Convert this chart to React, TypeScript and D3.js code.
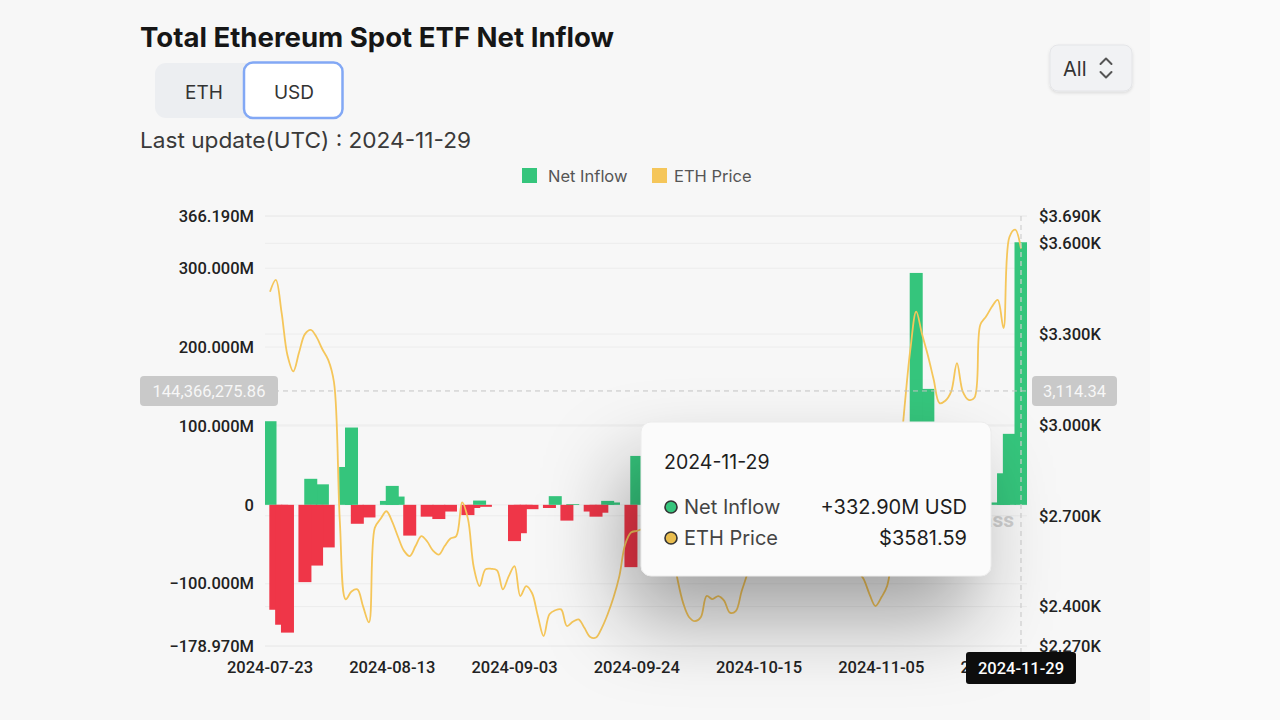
import React from 'react';
import * as d3 from 'd3';

// ---------- data ----------
const flowDates = [
  '2024-07-23', '2024-07-24', '2024-07-25', '2024-07-26', '2024-07-29', '2024-07-30', '2024-07-31',
  '2024-08-01', '2024-08-02', '2024-08-05', '2024-08-06', '2024-08-07', '2024-08-09', '2024-08-12',
  '2024-08-13', '2024-08-14', '2024-08-16', '2024-08-19', '2024-08-21', '2024-08-23', '2024-08-26',
  '2024-08-27', '2024-08-28', '2024-08-29', '2024-09-03', '2024-09-04', '2024-09-05', '2024-09-06',
  '2024-09-09', '2024-09-10', '2024-09-12', '2024-09-13', '2024-09-16', '2024-09-17', '2024-09-18',
  '2024-09-19', '2024-09-20', '2024-09-23', '2024-09-24', '2024-09-27', '2024-09-30', '2024-10-01',
  '2024-10-02', '2024-10-04', '2024-10-07', '2024-10-10', '2024-10-14', '2024-10-15', '2024-10-16',
  '2024-10-18', '2024-10-22', '2024-10-23', '2024-10-29', '2024-10-30', '2024-10-31', '2024-11-01',
  '2024-11-04', '2024-11-05', '2024-11-07', '2024-11-08', '2024-11-11', '2024-11-12', '2024-11-13',
  '2024-11-14', '2024-11-15', '2024-11-18', '2024-11-19', '2024-11-20', '2024-11-22', '2024-11-25',
  '2024-11-26', '2024-11-27', '2024-11-29',
];
// net inflow, millions of USD
const flowValues = [
  106, -133, -152, -162, -98, 33, -77,
  26, -54, 48, 98, -24, -16, 5,
  24, 10.5, -39, -15, -18, -8.5, -13,
  -4, 5.4, -2.5, -46, -36, -5, -5.5,
  -4, 11, -20, 1, -8.5, -15, -10,
  5, 3, -79, 62, 58, 85, 14,
  -48, 7, -7, -6, -3, 24, 49,
  48, -80, -19, 8, 4, -10, -11,
  -63, 52, 79, 85, 294, 136, 147,
  -3, -60, -39, 13, -81, 91, 3,
  40, 90, 332.9,
];

const priceStartDate = '2024-07-23';
// daily ETH price (USD), 2024-07-23 .. 2024-11-29
const priceValues = [
  3440, 3479, 3370, 3230, 3177, 3240, 3300, 3314, 3290, 3250,
  3215, 3140, 2680, 2424, 2450, 2457, 2400, 2348, 2660, 2690,
  2715, 2680, 2630, 2585, 2567, 2600, 2633, 2615, 2585, 2572,
  2600, 2625, 2633, 2744, 2690, 2530, 2468, 2523, 2525, 2520,
  2457, 2500, 2534, 2435, 2468, 2445, 2370, 2303, 2375, 2388,
  2391, 2336, 2350, 2358, 2330, 2300, 2298, 2330, 2375, 2430,
  2500, 2605, 2645, 2650, 2655, 2640, 2700, 2680, 2660, 2600,
  2490, 2410, 2365, 2352, 2365, 2435, 2425, 2435, 2420, 2380,
  2385, 2450, 2510, 2600, 2610, 2605, 2620, 2640, 2650, 2740,
  2670, 2620, 2560, 2540, 2525, 2530, 2560, 2580, 2640, 2660,
  2600, 2520, 2490, 2440, 2402, 2430, 2468, 2600, 2850, 3060,
  3250, 3374, 3300, 3230, 3150, 3072, 3080, 3110, 3204, 3110,
  3083, 3090, 3330, 3358, 3390, 3413, 3320, 3620, 3645, 3582,
];

const leftTickValues = [366.19, 300, 200, 100, 0, -100, -178.97];
const rightTickValues = [3690, 3600, 3300, 3000, 2700, 2400, 2270];
const xTickDates = ['2024-07-23', '2024-08-13', '2024-09-03', '2024-09-24', '2024-10-15', '2024-11-05', '2024-11-26'];

const crosshairDate = '2024-11-29';
const crosshairFlowUsd = 144366275.86;
const crosshairPrice = 3114.34;
const tooltipFlow = 332.9;
const tooltipPrice = 3581.59;
const lastUpdate = '2024-11-29';

// ---------- style ----------
const GREEN = '#35c57c';
const RED = '#ef3648';
const YELLOW = '#f5c65a';
const UI_FONT = 'Inter, "Noto Sans", sans-serif';
const NUM_FONT = 'Roboto, "Noto Sans", sans-serif';

const parse = d3.utcParse('%Y-%m-%d');

export default function App() {
  const x = d3.scaleUtc()
    .domain([parse('2024-07-23') as Date, parse('2024-11-29') as Date])
    .range([270, 1021]);
  const yL = d3.scaleLinear().domain([-178.97, 366.19]).range([646, 216]);
  const yR = d3.scaleLinear().domain([2270, 3690]).range([646, 216]);

  const plotLeft = 265;
  const plotRight = 1027;
  const barW = 13;

  const priceData = priceValues.map((v, i) => ({
    date: d3.utcDay.offset(parse(priceStartDate) as Date, i),
    v,
  }));
  const line = d3.line<{ date: Date; v: number }>()
    .x((d) => x(d.date))
    .y((d) => yR(d.v))
    .curve(d3.curveCatmullRom.alpha(0.5));

  const bars = flowDates
    .map((d, i) => ({ date: parse(d) as Date, v: flowValues[i] }))
    .sort((a, b) => Math.abs(a.v) - Math.abs(b.v));

  const fmtLeft = (v: number) => (v === 0 ? '0' : d3.format('.3f')(v) + 'M');
  const fmtRight = (v: number) => '$' + d3.format('.3f')(v / 1000) + 'K';
  const fmtDate = d3.utcFormat('%Y-%m-%d');

  const chX = x(parse(crosshairDate) as Date);
  const chY = yL(crosshairFlowUsd / 1e6);

  const tipX = 641, tipY = 422, tipW = 350, tipH = 154;

  return (
    <svg width={1280} height={720} style={{ position: 'fixed', left: 0, top: 0 }}>
      <defs>
        <filter id="tipShadow" x="-80%" y="-80%" width="260%" height="280%">
          <feDropShadow dx="-18" dy="44" stdDeviation="40" floodColor="#000" floodOpacity="0.34" />
        </filter>
        <filter id="boxShadow" x="-20%" y="-20%" width="140%" height="160%">
          <feDropShadow dx="0" dy="1.5" stdDeviation="1.5" floodColor="#000" floodOpacity="0.12" />
        </filter>
        <clipPath id="plotClip">
          <rect x={plotLeft} y={200} width={plotRight - plotLeft} height={460} />
        </clipPath>
        <clipPath id="wmClip">
          <rect x={tipX + tipW} y={490} width={60} height={50} />
        </clipPath>
      </defs>

      {/* background */}
      <rect x={0} y={0} width={1280} height={720} fill="#f7f7f7" />
      <rect x={1150} y={0} width={130} height={720} fill="#fafafa" />

      {/* title & controls */}
      <text x={140} y={47} fontFamily={UI_FONT} fontWeight={700} fontSize={27.5} textLength={474} lengthAdjust="spacingAndGlyphs" fill="#161616">
        Total Ethereum Spot ETF Net Inflow
      </text>
      <rect x={155} y={63} width={180} height={55} rx={11} fill="#eceef1" />
      <text x={204} y={99} textAnchor="middle" fontFamily={UI_FONT} fontSize={19} fill="#333">ETH</text>
      <rect x={244} y={62.5} width={98.5} height={55.5} rx={9} fill="#ffffff" stroke="#82a8f5" strokeWidth={2.5} />
      <text x={294} y={99} textAnchor="middle" fontFamily={UI_FONT} fontSize={19} fill="#333">USD</text>
      <text x={140} y={147.5} fontFamily={UI_FONT} fontSize={22} textLength={331} lengthAdjust="spacingAndGlyphs" fill="#3a3a3a">
        {'Last update(UTC) : ' + lastUpdate}
      </text>

      <g filter="url(#boxShadow)">
        <rect x={1050} y={45} width={82} height={46} rx={8} fill="#f1f2f4" stroke="#e4e5e8" strokeWidth={1} />
      </g>
      <text x={1063} y={75.5} fontFamily={UI_FONT} fontSize={20} fill="#333">All</text>
      <path d="M1100.5,64 L1106,58.5 L1111.5,64" fill="none" stroke="#555" strokeWidth={2} strokeLinecap="round" strokeLinejoin="round" />
      <path d="M1100.5,72 L1106,77.5 L1111.5,72" fill="none" stroke="#555" strokeWidth={2} strokeLinecap="round" strokeLinejoin="round" />

      {/* legend */}
      <rect x={522} y={168} width={15} height={15} fill={GREEN} />
      <text x={548} y={181.5} fontFamily={UI_FONT} fontSize={16.5} fill="#555">Net Inflow</text>
      <rect x={652} y={168} width={15} height={15} fill={YELLOW} />
      <text x={674} y={181.5} fontFamily={UI_FONT} fontSize={16.5} fill="#555">ETH Price</text>

      {/* grid */}
      {leftTickValues.map((v) => (
        <line key={'gl' + v} x1={plotLeft} x2={plotRight} y1={yL(v)} y2={yL(v)} stroke="#ececec" strokeWidth={1} />
      ))}
      {rightTickValues.map((v) => (
        <line key={'gr' + v} x1={plotLeft} x2={plotRight} y1={yR(v)} y2={yR(v)} stroke="#ececec" strokeWidth={1} />
      ))}

      {/* left axis labels */}
      {leftTickValues.map((v) => (
        <text key={'lt' + v} x={254} y={yL(v)} dy="0.35em" textAnchor="end" fontFamily={NUM_FONT} fontWeight={500} fontSize={16.5} fill="#222">
          {fmtLeft(v)}
        </text>
      ))}
      {/* right axis labels */}
      {rightTickValues.map((v) => (
        <text key={'rt' + v} x={1039} y={yR(v)} dy="0.35em" fontFamily={NUM_FONT} fontWeight={500} fontSize={16.5} fill="#222">
          {fmtRight(v)}
        </text>
      ))}
      {/* x axis labels */}
      {xTickDates.map((d) => (
        <text key={'xt' + d} x={x(parse(d) as Date)} y={673} textAnchor="middle" fontFamily={NUM_FONT} fontWeight={500} fontSize={16.5} fill="#222">
          {d}
        </text>
      ))}

      {/* watermark (mostly covered by the tooltip) */}
      <g clipPath="url(#wmClip)">
        <text x={1014} y={527} textAnchor="end" fontFamily={NUM_FONT} fontWeight={700} fontSize={21} fill="#cfcfcf">coinglass</text>
      </g>

      {/* bars */}
      <g clipPath="url(#plotClip)">
        {bars.map((b, i) => (
          <rect
            key={'b' + i}
            x={x(b.date) - barW / 2}
            width={barW}
            y={yL(Math.max(0, b.v))}
            height={Math.abs(yL(b.v) - yL(0))}
            fill={b.v >= 0 ? GREEN : RED}
          />
        ))}
      </g>

      {/* price line */}
      <path d={line(priceData) || ''} fill="none" stroke={YELLOW} strokeWidth={1.8} />

      {/* crosshair */}
      <line x1={plotLeft} x2={plotRight} y1={chY} y2={chY} stroke="#c4c4c4" strokeWidth={1} strokeDasharray="5,4" />
      <line x1={chX} x2={chX} y1={216} y2={652} stroke="#d0d0d0" strokeWidth={1.2} strokeDasharray="5,4" />
      <rect x={140} y={376} width={138} height={30} rx={4} fill="#c9c9c9" />
      <text x={209} y={chY} dy="0.36em" textAnchor="middle" fontFamily={NUM_FONT} fontSize={16.5} fill="#f7f7f7">
        {d3.format(',.2f')(crosshairFlowUsd)}
      </text>
      <rect x={1032} y={376} width={85} height={30} rx={4} fill="#c9c9c9" />
      <text x={1074.5} y={chY} dy="0.36em" textAnchor="middle" fontFamily={NUM_FONT} fontSize={16.5} fill="#f7f7f7">
        {d3.format(',.2f')(crosshairPrice)}
      </text>
      <rect x={chX - 55} y={652} width={110} height={32} rx={3} fill="#0d0d0d" />
      <text x={chX} y={674} textAnchor="middle" fontFamily={NUM_FONT} fontWeight={500} fontSize={16.5} fill="#ffffff">
        {fmtDate(parse(crosshairDate) as Date)}
      </text>

      {/* tooltip */}
      <g filter="url(#tipShadow)">
        <rect x={tipX} y={tipY} width={tipW} height={tipH} rx={10} fill="#fbfbfb" />
      </g>
      <rect x={tipX} y={tipY} width={tipW} height={tipH} rx={10} fill="#fbfbfb" stroke="#ececec" strokeWidth={1} />
      <text x={664} y={468.5} fontFamily={UI_FONT} fontSize={19.5} fill="#1e1e1e">{crosshairDate}</text>
      <circle cx={671} cy={507} r={6} fill={GREEN} stroke="#333" strokeWidth={1.6} />
      <text x={684} y={514} fontFamily={UI_FONT} fontSize={20} fill="#444">Net Inflow</text>
      <text x={967} y={514} textAnchor="end" fontFamily={UI_FONT} fontSize={20} fill="#1e1e1e">
        {d3.format('+.2f')(tooltipFlow) + 'M USD'}
      </text>
      <circle cx={671} cy={538} r={6} fill="#e9bd4e" stroke="#333" strokeWidth={1.6} />
      <text x={684} y={545} fontFamily={UI_FONT} fontSize={20} fill="#444">ETH Price</text>
      <text x={967} y={545} textAnchor="end" fontFamily={UI_FONT} fontSize={20} fill="#1e1e1e">
        {'$' + d3.format('.2f')(tooltipPrice)}
      </text>
    </svg>
  );
}
